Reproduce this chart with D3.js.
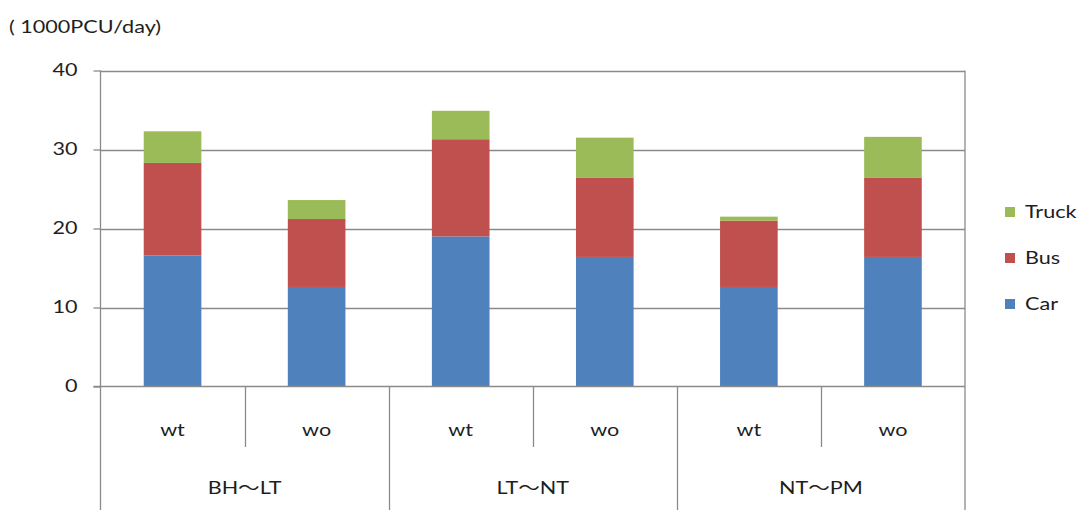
<!DOCTYPE html>
<html>
<head>
<meta charset="utf-8">
<script src="https://cdn.jsdelivr.net/npm/d3@7"></script>
<style>
  html, body { margin: 0; padding: 0; background: #fff; }
  svg { display: block; }
  text { font-family: Lato, "Noto Sans", "Noto Sans CJK KR", sans-serif; fill: #1e1e1e; }
</style>
</head>
<body>
<svg id="chart" width="1085" height="510"></svg>
<script>
// Sections and scenarios along the x axis
const sections = ["BH～LT", "LT～NT", "NT～PM"];
const scenarios = ["wt", "wo"];

// Daily traffic by vehicle type (1000 PCU/day), one value per section × scenario
const car   = [16.6, 12.6, 19.0, 16.4, 12.6, 16.4];
const bus   = [11.7,  8.6, 12.3, 10.0,  8.4, 10.0];
const truck = [ 4.0,  2.4,  3.6,  5.1,  0.5,  5.2];

const seriesNames = ["Car", "Bus", "Truck"];
const seriesColors = ["#4F81BD", "#C0504D", "#9BBB59"];
const yTicks = [0, 10, 20, 30, 40];
const unitLabel = "( 1000PCU/day)";

// Build rows for the stack layout
const rows = [];
sections.forEach((s, i) => scenarios.forEach((c, j) => {
  const k = i * scenarios.length + j;
  rows.push({ key: k, section: s, scenario: c, Car: car[k], Bus: bus[k], Truck: truck[k] });
}));

const svg = d3.select("#chart");
const plotL = 100.5, plotR = 965, plotT = 70.5, plotB = 386.5;
const gridColor = "#8a8a8a";
const textWiden = 1.27;   // labels are set in a wide, Calibri-like proportion

// Widen text horizontally while keeping its anchor point in place
function widen(sel) {
  sel.each(function () {
    const t = d3.select(this);
    const x0 = +(t.attr("x") || 0);
    t.attr("x", x0 / textWiden).attr("transform", `scale(${textWiden},1)`);
  });
}

const x = d3.scaleBand()
  .domain(rows.map(d => d.key))
  .range([plotL, plotR])
  .paddingInner(0.6)
  .paddingOuter(0.3);

const y = d3.scaleLinear().domain([0, 40]).range([plotB, plotT]);

const stacked = d3.stack().keys(seriesNames)(rows);
const color = d3.scaleOrdinal().domain(seriesNames).range(seriesColors);

// Horizontal gridlines
svg.append("g")
  .selectAll("line")
  .data(yTicks.filter(t => t > 0))
  .join("line")
  .attr("x1", plotL).attr("x2", plotR)
  .attr("y1", d => Math.round(y(d)) + 0.5).attr("y2", d => Math.round(y(d)) + 0.5)
  .attr("stroke", gridColor).attr("stroke-width", 1.3);

// Stacked bars
svg.append("g")
  .selectAll("g")
  .data(stacked)
  .join("g")
  .attr("fill", d => color(d.key))
  .selectAll("rect")
  .data(d => d)
  .join("rect")
  .attr("x", d => x(d.data.key))
  .attr("width", x.bandwidth())
  .attr("y", d => y(d[1]))
  .attr("height", d => y(d[0]) - y(d[1]));

// Y axis with tick labels
const yAxis = d3.axisLeft(y).tickValues(yTicks).tickSize(7).tickPadding(16).tickFormat(d3.format("d"));
const ya = svg.append("g").attr("transform", `translate(${plotL},0)`).call(yAxis);
ya.select(".domain").remove();
ya.selectAll(".tick line").attr("stroke", gridColor).attr("stroke-width", 1.3);
ya.selectAll(".tick text").attr("font-size", 17).attr("fill", "#1e1e1e")
  .style("font-family", "Lato, 'Noto Sans', sans-serif")
  .call(widen);

// Plot frame: left axis line, right edge and baseline
svg.append("line").attr("x1", plotL).attr("x2", plotL).attr("y1", plotT).attr("y2", 510)
  .attr("stroke", gridColor).attr("stroke-width", 1.3);
svg.append("line").attr("x1", plotR).attr("x2", plotR).attr("y1", plotT).attr("y2", 510)
  .attr("stroke", gridColor).attr("stroke-width", 1.3);
svg.append("line").attr("x1", plotL - 7).attr("x2", plotR).attr("y1", plotB).attr("y2", plotB)
  .attr("stroke", gridColor).attr("stroke-width", 1.3);

// Two-level category axis: scenario dividers and section dividers
const step = x.step();
const catLeft = k => x(k) - x.paddingOuter() * step;
const seps = svg.append("g").attr("stroke", gridColor).attr("stroke-width", 1.3);
rows.forEach((d, k) => {
  if (k === 0) return;
  const xp = Math.round(catLeft(k)) + 0.5;
  const isSection = k % scenarios.length === 0;
  seps.append("line").attr("x1", xp).attr("x2", xp)
    .attr("y1", plotB).attr("y2", isSection ? 510 : 447);
});

svg.append("g")
  .selectAll("text")
  .data(rows)
  .join("text")
  .attr("x", d => x(d.key) + x.bandwidth() / 2)
  .attr("y", 436)
  .attr("text-anchor", "middle")
  .attr("font-size", 17)
  .text(d => d.scenario)
  .call(widen);

svg.append("g")
  .selectAll("text")
  .data(sections)
  .join("text")
  .attr("x", (d, i) => {
    const a = catLeft(i * scenarios.length);
    const b = a + step * scenarios.length;
    return (a + b) / 2;
  })
  .attr("y", 494)
  .attr("text-anchor", "middle")
  .attr("font-size", 17)
  .text(d => d)
  .call(widen);

// Unit label
svg.append("text").attr("x", 9).attr("y", 33).attr("font-size", 17).text(unitLabel).call(widen);

// Legend (Truck on top, Car at bottom)
const legend = svg.append("g");
const legendItems = seriesNames.slice().reverse();
legendItems.forEach((name, i) => {
  const cy = 212 + i * 46;
  legend.append("rect").attr("x", 1005).attr("y", cy - 5).attr("width", 10).attr("height", 10)
    .attr("fill", color(name));
  legend.append("text").attr("x", 1025).attr("y", cy + 6).attr("font-size", 17).text(name).call(widen);
});
</script>
</body>
</html>
